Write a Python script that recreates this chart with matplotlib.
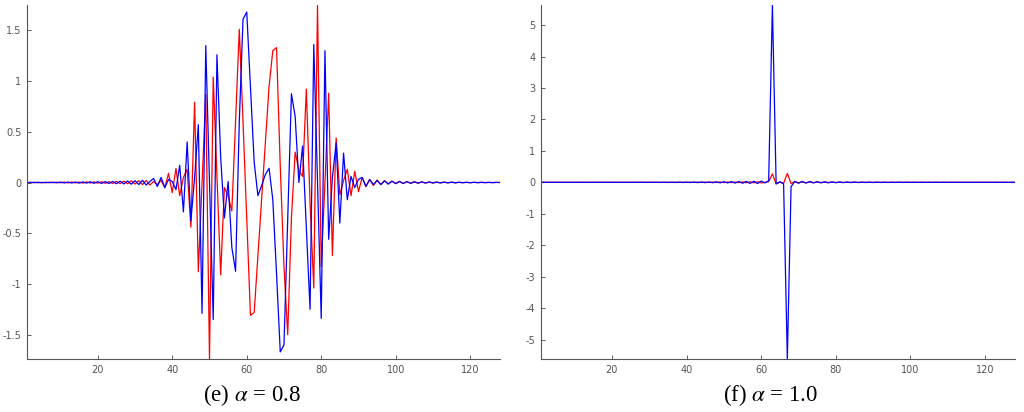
import numpy as np
import matplotlib
matplotlib.use("Agg")
from matplotlib import pyplot as plt

plt.rcParams["mathtext.fontset"] = "stix"

# sample index 1..128
n = np.arange(1, 129)

# (e) alpha = 0.8 : real part (red) and imaginary part (blue)
e_re = [
    0.002, -0.002, 0.003, -0.003, 0.002, -0.003, 0.003, -0.002, 0.003, -0.003,
    0.004, -0.004, 0.005, -0.004, 0.005, -0.006, 0.006, -0.005, 0.007, -0.007,
    0.008, -0.008, 0.009, -0.010, 0.011, -0.010, 0.013, -0.012, 0.016, -0.015,
    0.018, -0.020, 0.020, -0.025, 0.010, -0.020, 0.020, -0.050, 0.090, -0.100,
    0.140, -0.130, 0.050, 0.130, -0.440, 0.790, -0.880, 0.000, 0.870, -1.740,
    1.040, 0.070, -0.910, -0.050, -0.130, -0.280, 0.600, 1.510, 0.600, -0.350,
    -1.310, -1.280, -0.720, -0.150, 0.400, 0.950, 1.300, 1.330, 0.160, -0.830,
    -1.500, -0.350, 0.300, 0.120, 0.060, 0.920, -0.200, -1.040, 1.750, -0.830,
    0.000, 0.880, -0.720, 0.440, -0.120, 0.020, 0.130, -0.130, 0.110, -0.090,
    0.050, -0.040, 0.030, -0.030, 0.025, -0.020, 0.020, -0.015, 0.015, -0.012,
    0.012, -0.010, 0.010, -0.008, 0.008, -0.007, 0.006, -0.006, 0.005, -0.005,
    0.004, -0.004, 0.004, -0.003, 0.003, -0.003, 0.003, -0.002, 0.002, -0.002,
    0.002, -0.002, 0.002, -0.001, 0.001, -0.001, 0.001, 0.000,
]
e_im = [
    -0.002, 0.002, -0.002, 0.003, -0.003, 0.003, -0.002, 0.003, -0.003, 0.004,
    -0.004, 0.004, -0.005, 0.005, -0.006, 0.006, -0.006, 0.007, -0.008, 0.008,
    -0.009, 0.009, -0.010, 0.011, -0.012, 0.013, -0.014, 0.015, -0.017, 0.018,
    -0.020, 0.022, -0.025, 0.010, 0.040, -0.040, 0.050, -0.050, 0.030, 0.010,
    -0.070, 0.170, -0.290, 0.400, -0.380, 0.050, 0.570, -1.290, 1.350, 0.000,
    -1.350, 1.260, 0.250, -0.350, 0.010, -0.640, -0.875, 0.600, 1.610, 1.680,
    0.940, 0.200, -0.130, -0.030, 0.080, 0.140, -0.170, -0.900, -1.670, -1.600,
    -0.350, 0.875, 0.650, 0.000, 0.360, -0.450, -1.250, 1.360, 0.000, -1.340,
    1.300, -0.560, 0.050, 0.390, -0.400, 0.290, -0.170, 0.060, -0.050, 0.030,
    0.050, -0.040, 0.030, -0.020, 0.020, -0.020, 0.015, -0.015, 0.012, -0.010,
    0.010, -0.009, 0.008, -0.008, 0.007, -0.006, 0.006, -0.005, 0.005, -0.004,
    0.004, -0.004, 0.003, -0.003, 0.003, -0.003, 0.002, -0.002, 0.002, -0.002,
    0.002, -0.001, 0.001, -0.001, 0.001, -0.001, 0.001, 0.000,
]

# (f) alpha = 1.0
f_re = [
    0.001, -0.001, 0.001, -0.001, 0.001, -0.001, 0.001, -0.001, 0.001, -0.001,
    0.001, -0.001, 0.001, -0.001, 0.001, -0.001, 0.002, -0.002, 0.002, -0.002,
    0.002, -0.002, 0.002, -0.002, 0.002, -0.002, 0.003, -0.003, 0.003, -0.003,
    0.003, -0.003, 0.003, -0.003, 0.004, -0.004, 0.004, -0.004, 0.004, -0.005,
    0.005, -0.005, 0.005, -0.006, 0.006, -0.006, 0.007, -0.007, 0.008, -0.008,
    0.009, -0.009, 0.010, -0.011, 0.012, -0.013, 0.014, -0.016, 0.018, -0.020,
    0.000, 0.020, 0.270, -0.050, 0.000, -0.030, 0.280, -0.040, 0.015, -0.015,
    0.012, -0.012, 0.010, -0.010, 0.009, -0.008, 0.008, -0.007, 0.006, -0.006,
    0.005, -0.005, 0.005, -0.004, 0.004, -0.004, 0.004, -0.003, 0.003, -0.003,
    0.003, -0.003, 0.002, -0.002, 0.002, -0.002, 0.002, -0.002, 0.002, -0.002,
    0.001, -0.001, 0.001, -0.001, 0.001, -0.001, 0.001, -0.001, 0.001, -0.001,
    0.001, -0.001, 0.001, -0.001, 0.001, -0.001, 0.001, -0.001, 0.001, -0.001,
    0.001, -0.001, 0.001, -0.001, 0.001, -0.001, 0.001, 0.000,
]
f_im = [
    -0.001, 0.001, -0.001, 0.001, -0.001, 0.001, -0.001, 0.001, -0.001, 0.001,
    -0.002, 0.002, -0.002, 0.002, -0.002, 0.002, -0.002, 0.002, -0.002, 0.002,
    -0.003, 0.003, -0.003, 0.003, -0.003, 0.003, -0.003, 0.004, -0.004, 0.004,
    -0.004, 0.005, -0.005, 0.005, -0.006, 0.006, -0.006, 0.007, -0.007, 0.008,
    -0.008, 0.009, -0.010, 0.011, -0.012, 0.013, -0.014, 0.015, -0.017, 0.019,
    -0.021, 0.023, -0.025, 0.028, -0.030, 0.030, -0.035, 0.035, -0.040, 0.040,
    -0.020, 0.050, 5.640, -0.050, 0.020, -0.050, -5.620, -0.140, 0.030, -0.030,
    0.030, -0.025, 0.025, -0.020, 0.020, -0.018, 0.016, -0.015, 0.013, -0.012,
    0.011, -0.010, 0.009, -0.008, 0.008, -0.007, 0.006, -0.006, 0.005, -0.005,
    0.005, -0.004, 0.004, -0.004, 0.003, -0.003, 0.003, -0.003, 0.003, -0.002,
    0.002, -0.002, 0.002, -0.002, 0.002, -0.002, 0.002, -0.001, 0.001, -0.001,
    0.001, -0.001, 0.001, -0.001, 0.001, -0.001, 0.001, -0.001, 0.001, -0.001,
    0.001, -0.001, 0.001, -0.001, 0.001, -0.001, 0.001, 0.000,
]

x_ticks = [20, 40, 60, 80, 100, 120]
e_yticks = [-1.5, -1, -0.5, 0, 0.5, 1, 1.5]
f_yticks = [-5, -4, -3, -2, -1, 0, 1, 2, 3, 4, 5]
captions = [r"(e) $\alpha$ = 0.8", r"(f) $\alpha$ = 1.0"]

fig = plt.figure(figsize=(10.24, 4.12), dpi=100)
ax1 = fig.add_axes([27 / 1024, 1 - 359 / 412, 473 / 1024, 354 / 412])
ax2 = fig.add_axes([541 / 1024, 1 - 359 / 412, 474 / 1024, 354 / 412])

panels = [(ax1, e_re, e_im, e_yticks), (ax2, f_re, f_im, f_yticks)]
for ax, re, im, yt in panels:
    ax.plot(n, re, color="#ff0000", lw=0.9)
    ax.plot(n, im, color="#0000ff", lw=0.9)
    lo = min(min(re), min(im))
    hi = max(max(re), max(im))
    ax.set_xlim(1, 128)
    ax.set_ylim(lo, hi)
    ax.set_xticks(x_ticks)
    ax.set_yticks(yt)
    ax.set_yticklabels([f"{v:g}" for v in yt])
    ax.tick_params(direction="in", length=3, width=0.6, color="#444444",
                   labelsize=7, labelcolor="#555555", pad=4)
    for side in ["top", "right"]:
        ax.spines[side].set_visible(False)
    for side in ["left", "bottom"]:
        ax.spines[side].set_color("#555555")
        ax.spines[side].set_linewidth(0.8)

# captions under each panel
fig.text(252 / 1024, 1 - 395 / 412, captions[0], ha="center", va="center",
         fontsize=16.5, family="Liberation Serif")
fig.text(771 / 1024, 1 - 395 / 412, captions[1], ha="center", va="center",
         fontsize=16.5, family="Liberation Serif")

fig.savefig("out.png", dpi=100)
